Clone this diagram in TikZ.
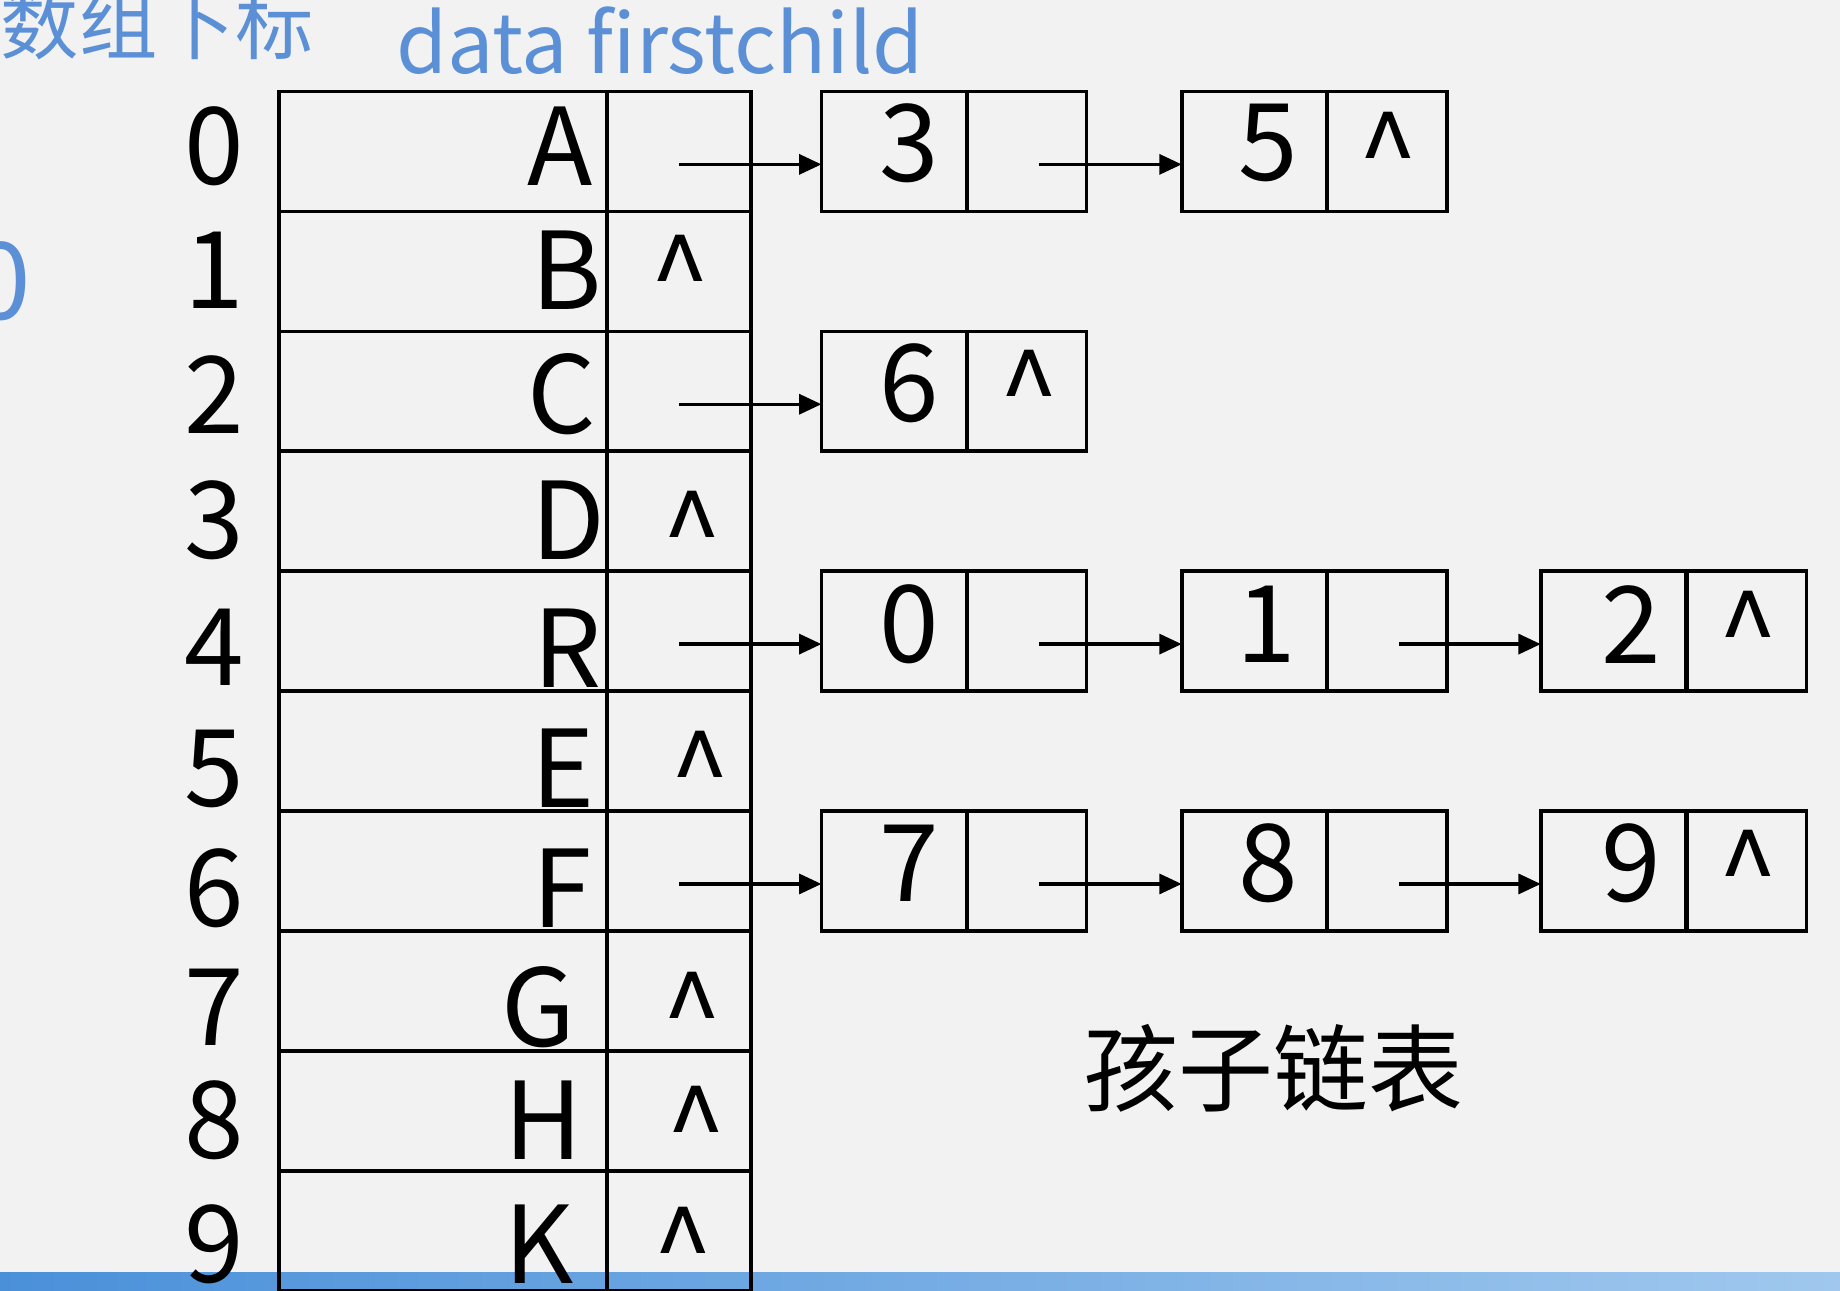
\documentclass[tikz,border=0pt]{standalone}
\usepackage{fontspec}
\setmainfont{Noto Sans CJK SC}
\usetikzlibrary{arrows.meta}
\definecolor{bg}{RGB}{242,242,242}
\definecolor{headblue}{RGB}{91,143,214}
\definecolor{stripleft}{RGB}{74,144,217}
\definecolor{stripright}{RGB}{160,200,238}

\begin{document}
\begin{tikzpicture}[x=0.1mm,y=-0.1mm,
  cell/.style={draw,line width=0.9pt,minimum height=10.22mm,inner sep=0pt,outer sep=0pt},
  datacell/.style={cell,minimum width=27.9mm},
  ptrcell/.style={cell,minimum width=12.3mm},
  kidcell/.style={cell,minimum width=12.4mm},
  nextcell/.style={cell,minimum width=10.2mm},
  big/.style={inner sep=0pt,font=\fontsize{26}{30}\selectfont},
  nil/.style={big,anchor=north},
  head/.style={inner sep=0pt,text=headblue},
  link/.style={line width=0.8pt,-{Triangle[length=1.9mm,width=1.7mm]}}]
\fill[bg] (0,0) rectangle (1568,1100);
\useasboundingbox (0,0) rectangle (1568,1100);
\shade[left color=stripleft,right color=stripright] (0,1084) rectangle (1568,1100);

% headings
\node[head,anchor=south west,font=\fontsize{19}{22}\selectfont] (idxhead) at (0,52) {数组下标};
\node[head,anchor=south west,font=\fontsize{20}{24}\selectfont] (colhead) at (337,64) {data firstchild};
\node[head,anchor=east,font=\fontsize{26}{30}\selectfont] (cut) at (27,240) {0};

% table
\node[datacell] (d0) at (377.5,129.1) {};
\node[datacell] (d1) at (377.5,231.3) {};
\node[datacell] (d2) at (377.5,333.5) {};
\node[datacell] (d3) at (377.5,435.7) {};
\node[datacell] (d4) at (377.5,537.9) {};
\node[datacell] (d5) at (377.5,640.1) {};
\node[datacell] (d6) at (377.5,742.3) {};
\node[datacell] (d7) at (377.5,844.5) {};
\node[datacell] (d8) at (377.5,946.7) {};
\node[datacell] (d9) at (377.5,1048.9) {};
\node[ptrcell] (f0) at (578.5,129.1) {};
\node[ptrcell] (f1) at (578.5,231.3) {};
\node[ptrcell] (f2) at (578.5,333.5) {};
\node[ptrcell] (f3) at (578.5,435.7) {};
\node[ptrcell] (f4) at (578.5,537.9) {};
\node[ptrcell] (f5) at (578.5,640.1) {};
\node[ptrcell] (f6) at (578.5,742.3) {};
\node[ptrcell] (f7) at (578.5,844.5) {};
\node[ptrcell] (f8) at (578.5,946.7) {};
\node[ptrcell] (f9) at (578.5,1048.9) {};

\node[big] (i0) at (183,125) {0};
\node[big] (i1) at (183,230) {1};
\node[big] (i2) at (183,336) {2};
\node[big] (i3) at (183,443) {3};
\node[big] (i4) at (183,552) {4};
\node[big] (i5) at (183,655) {5};
\node[big] (i6) at (183,757) {6};
\node[big] (i7) at (183,858) {7};
\node[big] (i8) at (183,955) {8};
\node[big] (i9) at (183,1060) {9};

\node[big,anchor=west] (vA) at (449,125) {A};
\node[big,anchor=west] (vB) at (452,230) {B};
\node[big,anchor=west] (vC) at (449,336) {C};
\node[big,anchor=west] (vD) at (452,443) {D};
\node[big,anchor=west] (vR) at (454,552) {R};
\node[big,anchor=west] (vE) at (452,655) {E};
\node[big,anchor=west] (vF) at (453,757) {F};
\node[big,anchor=west] (vG) at (427,858) {G};
\node[big,anchor=west] (vH) at (429,955) {H};
\node[big,anchor=west] (vK) at (429,1060) {K};

\node[nil] (nB) at (580,200) {\^{}};
\node[nil] (nD) at (590,418) {\^{}};
\node[nil] (nE) at (597,622) {\^{}};
\node[nil] (nG) at (590,828) {\^{}};
\node[nil] (nH) at (593,925) {\^{}};
\node[nil] (nK) at (582,1028) {\^{}};

% child lists
\node[kidcell] (c3) at (762,129.1) {};
\node[nextcell] (p3) at (875,129.1) {};
\node[kidcell] (c5) at (1069,129.1) {};
\node[nextcell] (p5) at (1182,129.1) {};
\node[kidcell] (c6) at (762,333.5) {};
\node[nextcell] (p6) at (875,333.5) {};
\node[kidcell] (c0) at (762,537.9) {};
\node[nextcell] (p0) at (875,537.9) {};
\node[kidcell] (c1) at (1069,537.9) {};
\node[nextcell] (p1) at (1182,537.9) {};
\node[kidcell] (c2) at (1375,537.9) {};
\node[nextcell] (p2) at (1488.5,537.9) {};
\node[kidcell] (c7) at (762,742.3) {};
\node[nextcell] (p7) at (875,742.3) {};
\node[kidcell] (c8) at (1069,742.3) {};
\node[nextcell] (p8) at (1182,742.3) {};
\node[kidcell] (c9) at (1375,742.3) {};
\node[nextcell] (p9) at (1488.5,742.3) {};

\node[big] (k3) at (775,122) {3};
\node[big] (k5) at (1081,122) {5};
\node[big] (k6) at (775,327) {6};
\node[big] (k0) at (775,532) {0};
\node[big] (k1) at (1079,532) {1};
\node[big] (k2) at (1390,532) {2};
\node[big] (k7) at (775,736) {7};
\node[big] (k8) at (1081,736) {8};
\node[big] (k9) at (1390,736) {9};

\node[nil] (e5) at (1183,95) {\^{}};
\node[nil] (e6) at (877,298) {\^{}};
\node[nil] (e2) at (1490,503) {\^{}};
\node[nil] (e9) at (1490,707) {\^{}};

\draw[link] ([yshift=-1.1mm]f0.center) -- ([yshift=-1.1mm]c3.west);
\draw[link] ([yshift=-1.1mm]f2.center) -- ([yshift=-1.1mm]c6.west);
\draw[link] ([yshift=-1.1mm]f4.center) -- ([yshift=-1.1mm]c0.west);
\draw[link] ([yshift=-1.1mm]f6.center) -- ([yshift=-1.1mm]c7.west);
\draw[link] ([shift={(1mm,-1.1mm)}]p3.center) -- ([yshift=-1.1mm]c5.west);
\draw[link] ([shift={(1mm,-1.1mm)}]p0.center) -- ([yshift=-1.1mm]c1.west);
\draw[link] ([shift={(1mm,-1.1mm)}]p1.center) -- ([yshift=-1.1mm]c2.west);
\draw[link] ([shift={(1mm,-1.1mm)}]p7.center) -- ([yshift=-1.1mm]c8.west);
\draw[link] ([shift={(1mm,-1.1mm)}]p8.center) -- ([yshift=-1.1mm]c9.west);

\node[inner sep=0pt,font=\fontsize{23}{26}\selectfont] (title) at (1085,910) {孩子链表};
\end{tikzpicture}
\end{document}
